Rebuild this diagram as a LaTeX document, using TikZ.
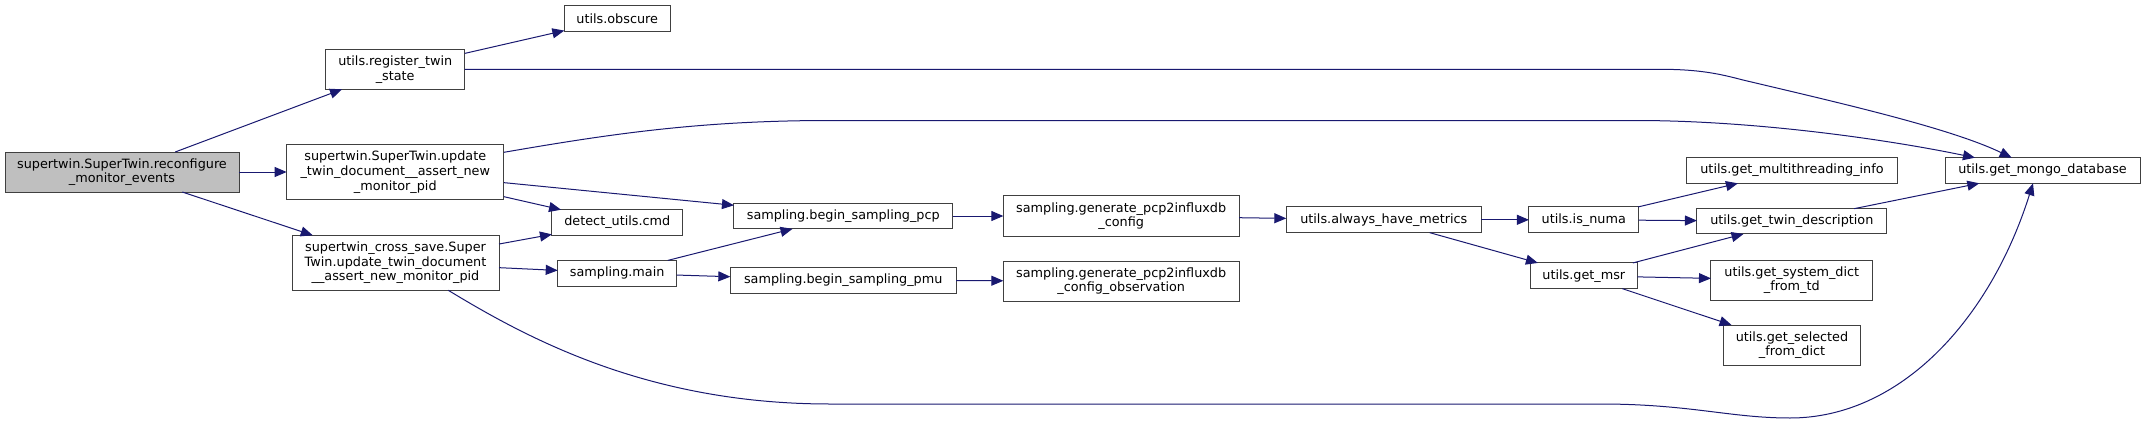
\documentclass[tikz,border=0pt]{standalone}
\usepackage{fontspec}
\setmainfont{DejaVu Sans}
\usetikzlibrary{arrows.meta}
\definecolor{edgeblue}{HTML}{191970}
\definecolor{boxline}{HTML}{404040}
\definecolor{rootfill}{HTML}{BFBFBF}
\tikzset{
  fn/.style={draw=boxline, line width=1pt, fill=white, inner sep=0pt, outer sep=0pt,
    align=center, font=\fontsize{12.8}{14.7}\selectfont, anchor=center},
  rootfn/.style={fn, fill=rootfill},
  call/.style={draw=edgeblue, line width=1pt, -{Triangle[length=12pt,width=10pt]}, edgeblue}
}
\begin{document}
\begin{tikzpicture}[x=1pt,y=-1pt]
\useasboundingbox (0,0) rectangle (2145,423);
% nodes
\node[rootfn, minimum width=234pt, minimum height=40pt] (root) at (122,172) {supertwin.SuperTwin.reconfigure\\\_monitor\_events};
\node[fn, minimum width=139pt, minimum height=40pt] (reg) at (395.2,69.3) {utils.register\_twin\\\_state};
\node[fn, minimum width=105.7pt, minimum height=25.6pt] (obs) at (617.2,18.5) {utils.obscure};
\node[fn, minimum width=217.3pt, minimum height=54.6pt] (upd) at (395.3,172) {supertwin.SuperTwin.update\\\_twin\_document\_\_assert\_new\\\_monitor\_pid};
\node[fn, minimum width=207pt, minimum height=55pt] (cross) at (395.5,262.8) {supertwin\_cross\_save.Super\\Twin.update\_twin\_document\\\_\_assert\_new\_monitor\_pid};
\node[fn, minimum width=130.7pt, minimum height=25.6pt] (detect) at (617.3,222.5) {detect\_utils.cmd};
\node[fn, minimum width=119pt, minimum height=25.6pt] (smain) at (617.2,273.2) {sampling.main};
\node[fn, minimum width=218.7pt, minimum height=25.7pt] (bpcp) at (843.3,216) {sampling.begin\_sampling\_pcp};
\node[fn, minimum width=225.7pt, minimum height=25.7pt] (bpmu) at (843.2,280.2) {sampling.begin\_sampling\_pmu};
\node[fn, minimum width=235.7pt, minimum height=40.5pt] (gcfg) at (1121.2,216) {sampling.generate\_pcp2influxdb\\\_config};
\node[fn, minimum width=235.7pt, minimum height=40.3pt] (gobs) at (1121.2,281.2) {sampling.generate\_pcp2influxdb\\\_config\_observation};
\node[fn, minimum width=195pt, minimum height=25.7pt] (always) at (1383.8,219.8) {utils.always\_have\_metrics};
\node[fn, minimum width=109.7pt, minimum height=25.7pt] (numa) at (1583.8,219.8) {utils.is\_numa};
\node[fn, minimum width=107pt, minimum height=25.7pt] (msr) at (1583.8,275.8) {utils.get\_msr};
\node[fn, minimum width=210.6pt, minimum height=25.6pt] (multi) at (1792,170.5) {utils.get\_multithreading\_info};
\node[fn, minimum width=189.7pt, minimum height=25.3pt] (twin) at (1791.8,221.3) {utils.get\_twin\_description};
\node[fn, minimum width=161.7pt, minimum height=40pt] (sysd) at (1791.8,280) {utils.get\_system\_dict\\\_from\_td};
\node[fn, minimum width=137.7pt, minimum height=40.3pt] (sel) at (1792,345.2) {utils.get\_selected\\\_from\_dict};
\node[fn, minimum width=195pt, minimum height=25.6pt] (mongo) at (2042.5,170.5) {utils.get\_mongo\_database};
% straight calls
\draw[call] (root) -- (reg);
\draw[call] (root) -- (upd);
\draw[call] (root) -- (cross);
\draw[call] (reg) -- (obs);
\draw[call] (upd) -- (bpcp);
\draw[call] (upd) -- (detect);
\draw[call] (cross) -- (detect);
\draw[call] (cross) -- (smain);
\draw[call] (smain) -- (bpcp);
\draw[call] (smain) -- (bpmu);
\draw[call] (bpcp) -- (gcfg);
\draw[call] (bpmu) -- (gobs);
\draw[call] (gcfg) -- (always);
\draw[call] (always) -- (numa);
\draw[call] (always) -- (msr);
\draw[call] (numa) -- (multi);
\draw[call] (numa) -- (twin);
\draw[call] (msr) -- (twin);
\draw[call] (msr) -- (sysd);
\draw[call] (msr) -- (sel);
\draw[call] (twin) -- (mongo);
% routed calls to utils.get_mongo_database
\draw[call] (reg.east) -- (1660,69.3) .. controls (1700,69.3) and (1720,74) .. (1743,80) .. controls (1840,103) and (1950,128) .. ([xshift=66.7pt]mongo.north west);
\draw[call] ([yshift=-7.6pt]upd.north east) .. controls (610,134) and (700,120.5) .. (830,120.5) -- (1640,120.5) .. controls (1760,121) and (1890,140) .. ([xshift=30pt]mongo.north west);
\draw[call] ([xshift=52.8pt]cross.south) .. controls (530,340) and (650,404) .. (830,404) -- (1600,404) .. controls (1690,404) and (1730,418) .. (1790,418) .. controls (1900,418) and (1990,320) .. ([xshift=88pt]mongo.south west);
\end{tikzpicture}
\end{document}
